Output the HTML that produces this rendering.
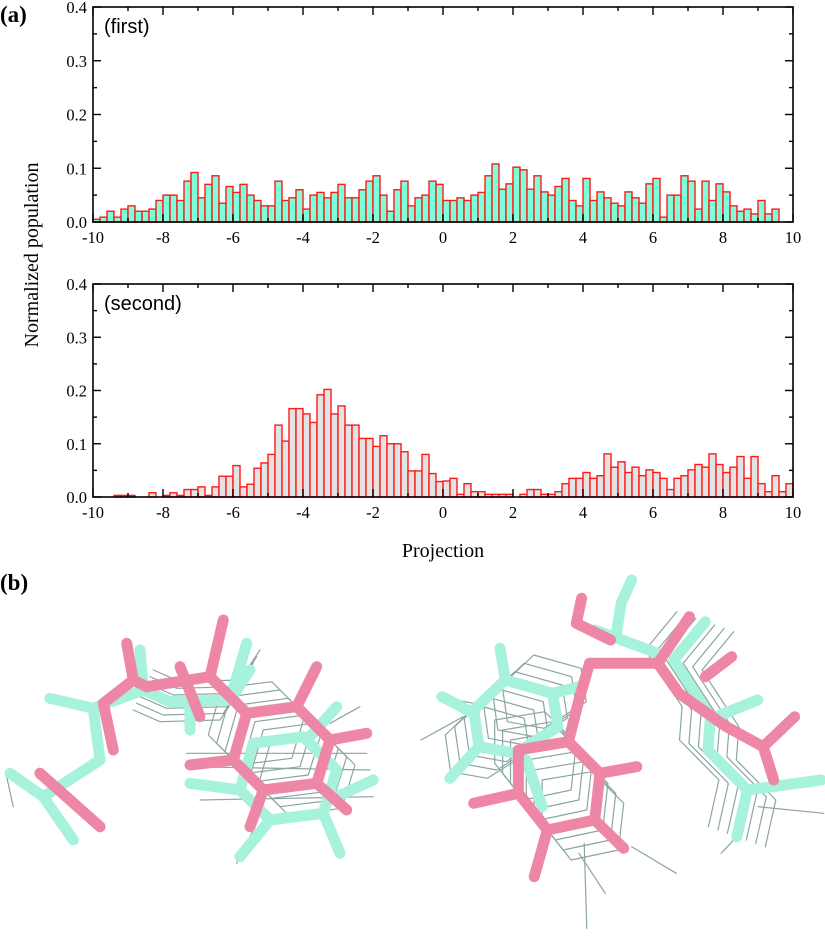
<!DOCTYPE html>
<html><head><meta charset="utf-8"><style>
body{margin:0;background:#fff}
svg{display:block;font-family:"Liberation Serif",serif}
</style></head><body>
<svg id="fig" width="825" height="940" viewBox="0 0 825 940">
<text x="0" y="22" font-size="23" font-weight="bold">(a)</text>
<text x="0" y="590" font-size="23" font-weight="bold">(b)</text>
<text transform="translate(38,255) rotate(-90)" text-anchor="middle" font-size="20">Normalized population</text>
<text x="443" y="557" text-anchor="middle" font-size="20">Projection</text>
<g id="p1"></g>
<g id="p2"></g>
<g id="mol"></g>
</svg>
<script>
const xTicks=[-10,-8,-6,-4,-2,0,2,4,6,8,10];
const yTicks=[0.0,0.1,0.2,0.3,0.4];
const binStart=-10, binWidth=0.2;
const firstValues=[0.005,0.009,0.02,0.009,0.024,0.03,0.02,0.02,0.024,0.04,0.05,0.05,0.04,0.076,0.092,0.045,0.07,0.086,0.035,0.066,0.055,0.07,0.05,0.04,0.03,0.03,0.076,0.04,0.045,0.06,0.024,0.05,0.055,0.045,0.055,0.07,0.045,0.045,0.06,0.076,0.086,0.05,0.02,0.06,0.076,0.03,0.045,0.05,0.076,0.07,
0.04,0.04,0.045,0.04,0.05,0.055,0.086,0.108,0.061,0.071,0.102,0.097,0.061,0.086,0.056,0.05,0.066,0.081,0.04,0.03,0.081,0.04,0.056,0.045,0.035,0.03,0.056,0.045,0.035,0.071,0.081,0.009,0.05,0.05,0.086,0.076,0.024,0.076,0.04,0.071,0.056,0.03,0.02,0.024,0.015,0.04,0.015,0.024,0,0];
const secondValues=[0,0,0,0.003,0.003,0.003,0,0,0.008,0,0.003,0.008,0.003,0.014,0.014,0.019,0.003,0.019,0.039,0.039,0.059,0.019,0.024,0.054,0.064,0.08,0.135,0.105,0.166,0.166,0.156,0.14,0.192,0.202,0.156,0.171,0.135,0.135,0.11,0.11,0.095,0.115,0.1,0.1,0.085,0.049,0.049,0.08,0.044,0.029,
0.03,0.035,0.005,0.025,0.01,0.01,0.005,0.005,0.005,0.005,0,0.005,0.014,0.014,0.005,0.005,0.01,0.025,0.035,0.035,0.046,0.035,0.04,0.081,0.056,0.066,0.046,0.056,0.04,0.051,0.046,0.035,0.014,0.035,0.04,0.051,0.061,0.056,0.081,0.061,0.046,0.056,0.076,0.035,0.076,0.025,0.01,0.04,0.01,0.025];
const NS='http://www.w3.org/2000/svg';
function mk(tag,attrs,parent){const e=document.createElementNS(NS,tag);for(const k in attrs)e.setAttribute(k,attrs[k]);parent.appendChild(e);return e;}
function drawPanel(g,top,bottom,values,fill,label){
  const L=93,R=793;
  const sx=v=>L+(v+10)/20*(R-L);
  const sy=v=>bottom-v/0.4*(bottom-top);
  values.forEach((v,i)=>{
    if(v<=0)return;
    const x0=sx(binStart+i*binWidth),x1=sx(binStart+(i+1)*binWidth);
    const r=mk('rect',{x:x0,y:sy(v),width:x1-x0,height:bottom-sy(v),fill:fill,stroke:'#ff1a1a','stroke-width':1.4},g);
    
    
  });
  const box=mk('rect',{x:L,y:top,width:R-L,height:bottom-top,fill:'none',stroke:'#000','stroke-width':1.6},g);
  
  
  for(let t=-10;t<=10;t+=1){const major=t%2===0;
    mk('line',{x1:sx(t),x2:sx(t),y1:bottom,y2:bottom-(major?8:4),stroke:'#000','stroke-width':1.4},g);
    mk('line',{x1:sx(t),x2:sx(t),y1:top,y2:top+(major?8:4),stroke:'#000','stroke-width':1.4},g);}
  for(let t=0;t<=0.4001;t+=0.05){const major=Math.round(t*100)%10===0;
    mk('line',{x1:L,x2:L+(major?8:4),y1:sy(t),y2:sy(t),stroke:'#000','stroke-width':1.4},g);
    mk('line',{x1:R,x2:R-(major?8:4),y1:sy(t),y2:sy(t),stroke:'#000','stroke-width':1.4},g);}
  xTicks.forEach(t=>{const tx=mk('text',{x:sx(t),y:bottom+21,'text-anchor':'middle','font-size':16.5},g);tx.textContent=t;
    
    });
  yTicks.forEach(t=>{const tx=mk('text',{x:L-6,y:sy(t)+6,'text-anchor':'end','font-size':16.5},g);tx.textContent=t.toFixed(1);
    
    });
  const lb=mk('text',{x:104,y:top+26,'font-size':20,'font-family':'Liberation Sans, sans-serif'},g);lb.textContent=label;
  
  
}
drawPanel(document.getElementById('p1'),7,222,firstValues,'#7fffd9','(first)');
drawPanel(document.getElementById('p2'),284,497,secondValues,'#e3e3e3','(second)');

const mol=document.getElementById('mol');
// left molecule coordinates: x/3, 580+y/3 ; right: x/1.9, 560+y/3
const PL=(x,y)=>[(x/3).toFixed(1),(580+y/3).toFixed(1)];
const PR=(x,y)=>[(x/1.9).toFixed(1),(560+y/3).toFixed(1)];
function poly(P,pts,color,w,closed,parent){
  const d=pts.map((p,i)=>(i?'L':'M')+P(p[0],p[1]).join(' ')).join(' ')+(closed?' Z':'');
  return mk('path',{d:d,fill:'none',stroke:color,'stroke-width':w,'stroke-linecap':'round','stroke-linejoin':'round'},parent);
}
const gray=mk('g',{},mol);


const ringL=[[740,400],[890,380],[990,480],[950,610],[790,630],[700,540]];
const ringR1=[[960,360],[1050,400],[1060,500],[980,580],[910,560],[900,450]];
const ringR2=[[985,570],[1080,545],[1140,640],[1130,780],[1040,810],[985,700]];
const chainR=[[1340,185],[1280,300],[1350,470],[1345,570],[1420,690],[1400,830]];
const chainL=[[430,330],[510,365],[690,360],[750,270]];
for(let k=-3;k<=3;k++){
  poly(PL,ringL.map(p=>[p[0]+k*25,p[1]+k*25]),'#8aa6a2',1.2,true,gray);
  poly(PL,chainL.map(p=>[p[0]+k*10,p[1]-k*20]),'#8aa6a2',1.2,false,gray);
  poly(PR,ringR1.map(p=>[p[0]-k*18,p[1]+k*25]),'#8aa6a2',1.2,true,gray);
  poly(PR,ringR2.map(p=>[p[0]+k*15,p[1]+k*30]),'#8aa6a2',1.2,true,gray);
  poly(PR,chainR.map(p=>[p[0]+k*18,p[1]+k*10]),'#8aa6a2',1.2,false,gray);
}
[[[20,590],[40,680]],[[560,520],[1100,520]],[[560,560],[1110,570]],[[600,660],[1120,650]],[[710,850],[760,750]],[[990,430],[1080,380]]].forEach(s=>poly(PL,s,'#8aa6a2',1.2,false,gray));
[[[1115,1105],[1110,850]],[[1150,1000],[1100,880]],[[1285,940],[1200,860]],[[800,540],[880,470]],[[830,410],[900,430]],[[1370,880],[1400,830]],[[1565,760],[1440,740]]].forEach(s=>poly(PR,s,'#8aa6a2',1.2,false,gray));
const cy='#a6f2dc', pk='#ee87a6', W=11;
const cyan=mk('g',{},mol);


const pink=mk('g',{},mol);


// left pink (behind)
[[[120,580],[300,740]],[[340,510],[310,370],[400,300],[380,190]],[[400,300],[440,320],[630,290],[670,120]],[[630,290],[740,400]],[[540,260],[600,410]]
].forEach(s=>poly(PL,s,pk,W,false,pink));
// left cyan
const cyanRingL=ringL.map(p=>[p[0]+20,p[1]+90]);
poly(PL,cyanRingL,cy,W,true,cyan);
[[[30,580],[130,650],[220,780]],[[130,650],[300,540],[280,385],[150,355]],[[280,385],[430,330],[420,210]],
 [[430,330],[510,365],[690,360],[750,270]],[[570,380],[570,450]],[[690,360],[740,190]],
 [[720,630],[570,610]],[[1010,650],[1120,600]],[[810,720],[720,830]],[[970,700],[1020,820]],[[930,470],[1010,380]]
].forEach(s=>poly(PL,s,cy,W,false,cyan));
// left pink ring on top
const pinkTop=mk('g',{},mol);


poly(PL,ringL,pk,W,true,pinkTop);
[[[890,380],[950,260]],[[990,480],[1100,460]],[[950,610],[1040,690]],[[790,630],[750,740]],[[700,540],[570,555]],[[120,580],[300,740]]].forEach(s=>poly(PL,s,pk,W,false,pinkTop));
// right molecule
[[[900,460],[840,410]],[[960,360],[950,265]],[[910,560],[855,655]],[[1000,600],[1030,740]],[[1050,400],[1100,380]],
 [[1200,60],[1180,130],[1170,230]],[[1130,210],[1250,280]],[[1340,185],[1280,300],[1350,470],[1345,570],[1420,690],[1400,830]],[[1420,690],[1560,660]],[[1360,470],[1440,420]]
].forEach(s=>poly(PR,s,cy,W,false,cyan));
poly(PR,ringR1,cy,W,true,cyan);
[[[1140,640],[1210,620]],[[1130,780],[1185,865]],[[1040,810],[1015,950]],[[985,700],[900,730]],
 [[1080,545],[1100,420],[1120,310],[1250,310],[1310,170]],[[1105,115],[1095,190],[1160,240]],[[1250,310],[1290,400],[1380,500],[1450,560],[1470,660]],[[1340,350],[1390,290]],[[1450,560],[1510,470]]
].forEach(s=>poly(PR,s,pk,W,false,pinkTop));
poly(PR,ringR2,pk,W,true,pinkTop);
</script>
</body></html>
